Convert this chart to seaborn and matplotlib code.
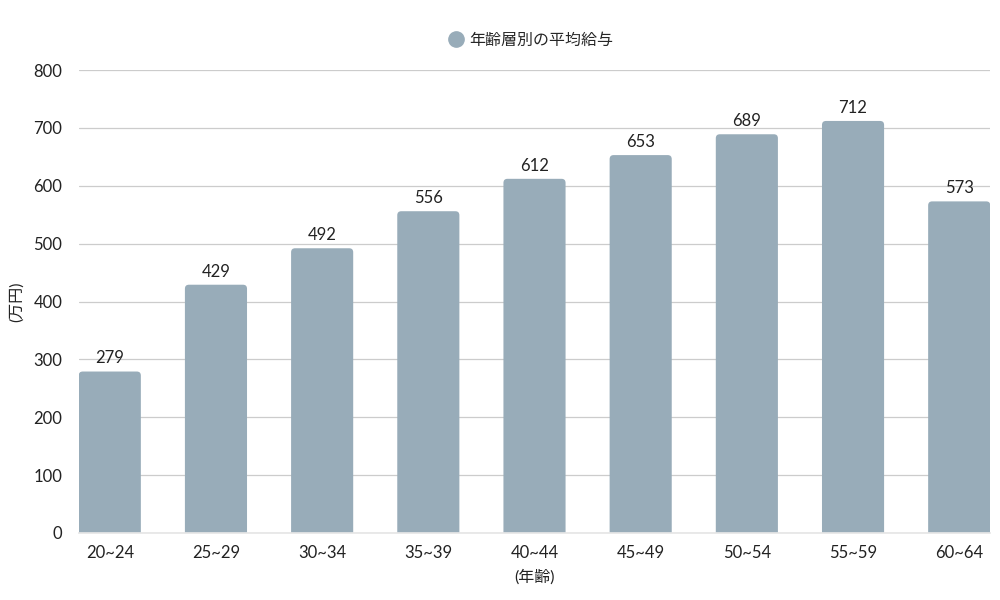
import matplotlib
matplotlib.use('Agg')
import matplotlib.pyplot as plt
import seaborn as sns
import pandas as pd
from matplotlib.patches import FancyBboxPatch
from matplotlib.lines import Line2D

ages = ['20~24', '25~29', '30~34', '35~39', '40~44', '45~49', '50~54', '55~59', '60~64']
salary = [279, 429, 492, 556, 612, 653, 689, 712, 573]
series_name = '年齢層別の平均給与'
bar_color = '#98acb9'

sns.set_theme(style='white')
plt.rcParams['font.family'] = ['Lato', 'Noto Sans CJK JP', 'DejaVu Sans']

df = pd.DataFrame({'age': ages, 'salary': salary})

fig = plt.figure(figsize=(10, 6), dpi=100)
ax = fig.add_axes([0.079, 0.1117, 0.911, 0.7716])
sns.barplot(data=df, x='age', y='salary', color=bar_color, width=0.585,
            saturation=1, ax=ax)

# swap plain rectangles for boxes with rounded tops
ppx = 911 / 8.58
ppy = 463 / 800
r = 4 / ppx
for p in list(ax.patches):
    x0, w, h = p.get_x(), p.get_width(), p.get_height()
    p.remove()
    box = FancyBboxPatch((x0, -20), w, h + 20,
                         boxstyle='round,pad=0,rounding_size=%f' % r,
                         mutation_aspect=(1 / ppy) / (1 / ppx),
                         facecolor=bar_color, edgecolor='none', zorder=2)
    ax.add_patch(box)

for i, v in enumerate(salary):
    ax.text(i, v + 9, str(v), ha='center', va='bottom', fontsize=12, color='#222222')

ax.set_xlim(-0.29, 8.29)
ax.set_ylim(0, 800)
ax.set_yticks(range(0, 801, 100))
ax.yaxis.grid(True, color='#cccccc', linewidth=0.9)
ax.set_axisbelow(True)
for s in ['top', 'right', 'left']:
    ax.spines[s].set_visible(False)
ax.spines['bottom'].set_color('#e6e6e6')
ax.tick_params(axis='both', length=0, labelsize=12, colors='#222222')
ax.tick_params(axis='y', pad=12)
ax.tick_params(axis='x', pad=9)
ax.set_xlabel('(年齢)', fontsize=11.5, color='#222222')
ax.set_ylabel('(万円)', fontsize=11.5, color='#222222')
ax.xaxis.set_label_coords(0.5, -0.078)
ax.yaxis.set_label_coords(-0.060, 0.5)

handle = Line2D([], [], marker='o', linestyle='none', markersize=11,
                markerfacecolor=bar_color, markeredgecolor=bar_color)
fig.legend([handle], [series_name], loc='center', bbox_to_anchor=(0.53, 0.932),
           frameon=False, fontsize=11.5, handletextpad=0.2, handlelength=1.2)

fig.savefig('out.png', dpi=100)
